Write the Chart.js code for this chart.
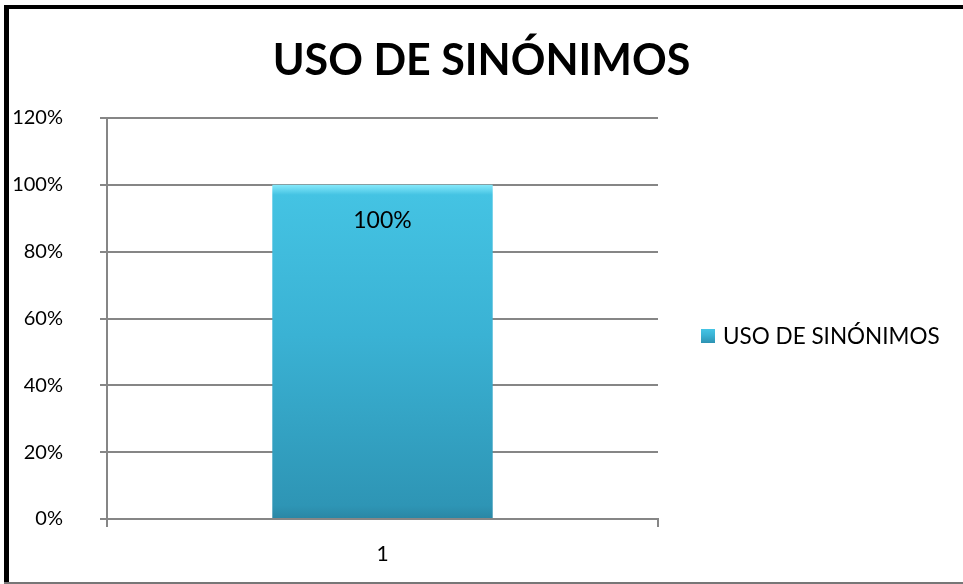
<!DOCTYPE html>
<html>
<head>
<meta charset="utf-8">
<script src="https://cdn.jsdelivr.net/npm/chart.js@4/dist/chart.umd.min.js"></script>
<style>
  html, body { margin: 0; padding: 0; background: #fff; }
  #wrap { position: relative; width: 963px; height: 584px; overflow: hidden; }
  #wrap canvas { position: absolute; left: 0; top: 0; }
  .frameL { position: absolute; left: 4px; top: 5px; width: 5px; height: 579px; background: #000; }
  .frameT { position: absolute; left: 4px; top: 5px; width: 959px; height: 4px; background: #000; }
  .frameB { position: absolute; left: 4px; top: 582px; width: 959px; height: 2px; background: #777; }
</style>
</head>
<body>
<div id="wrap">
  <canvas id="chart" width="963" height="584"></canvas>
  <div class="frameL"></div>
  <div class="frameT"></div>
  <div class="frameB"></div>
</div>
<script>
const chartTitle = 'USO DE SINÓNIMOS';
const categories = ['1'];
const seriesName = 'USO DE SINÓNIMOS';
const seriesValues = [1.0];
const yTicks = [0, 0.2, 0.4, 0.6, 0.8, 1.0, 1.2];

const FONT = 'Lato, "Open Sans", sans-serif';
const GRID = '#868686';

function barGradient(ctx, top, bottom) {
    const g = ctx.createLinearGradient(0, top, 0, bottom);
    g.addColorStop(0, '#86e9fb');
    g.addColorStop(0.03, '#44c3e3');
    g.addColorStop(0.45, '#3ab2d4');
    g.addColorStop(0.96, '#2e95b5');
    g.addColorStop(1, '#2a86a4');
    return g;
}

// title centred on the whole picture (not just the plot)
const pageTitle = {
    id: 'pageTitle',
    afterDraw(chart) {
        const ctx = chart.ctx;
        ctx.save();
        ctx.font = 'bold 43px ' + FONT;
        ctx.fillStyle = '#000';
        ctx.textAlign = 'center';
        ctx.textBaseline = 'middle';
        ctx.fillText(chartTitle, chart.width / 2, 61);
        ctx.restore();
    }
};

// data label inside top of the bar
const valueLabels = {
    id: 'valueLabels',
    afterDatasetsDraw(chart) {
        const ctx = chart.ctx;
        const meta = chart.getDatasetMeta(0);
        ctx.save();
        ctx.font = '23px ' + FONT;
        ctx.fillStyle = '#000';
        ctx.textAlign = 'center';
        ctx.textBaseline = 'middle';
        meta.data.forEach((bar, i) => {
            const v = chart.data.datasets[0].data[i];
            ctx.fillText(Math.round(v * 100) + '%', bar.x, bar.y + 36);
        });
        ctx.restore();
    }
};

// legend on the right, drawn by hand so it sits where the original has it
const sideLegend = {
    id: 'sideLegend',
    afterDraw(chart) {
        const ctx = chart.ctx;
        const x = 701, y = 336;
        ctx.save();
        ctx.fillStyle = barGradient(ctx, y - 7, y + 7);
        ctx.fillRect(x, y - 7, 14, 14);
        ctx.font = '22.5px ' + FONT;
        ctx.fillStyle = '#000';
        ctx.textAlign = 'left';
        ctx.textBaseline = 'middle';
        ctx.fillText(chart.data.datasets[0].label, x + 22, y + 1);
        ctx.restore();
    }
};

new Chart(document.getElementById('chart'), {
    type: 'bar',
    data: {
        labels: categories,
        datasets: [{
            label: seriesName,
            data: seriesValues,
            backgroundColor: (c) => {
                const area = c.chart.chartArea;
                if (!area) return '#3ab2d4';
                const yScale = c.chart.scales.y;
                return barGradient(c.chart.ctx, yScale.getPixelForValue(1), area.bottom);
            },
            borderWidth: 0,
            barPercentage: 0.4,
            categoryPercentage: 1.0
        }]
    },
    options: {
        responsive: false,
        animation: false,
        layout: { padding: { left: 0, right: 305, top: 118, bottom: 0 } },
        plugins: {
            legend: { display: false },
            tooltip: { enabled: false },
            title: { display: false }
        },
        scales: {
            x: {
                afterFit: (s) => { s.height = 65; },
                grid: { display: true, drawOnChartArea: false, tickLength: 8, color: GRID, lineWidth: 2, offset: true },
                border: { color: GRID, width: 2 },
                ticks: { color: '#000', font: { family: FONT, size: 21 }, padding: 15 }
            },
            y: {
                min: 0,
                max: 1.2,
                afterFit: (s) => { s.width = 107; },
                afterBuildTicks: (s) => { s.ticks = yTicks.map(v => ({ value: v })); },
                grid: { color: GRID, lineWidth: 2, tickLength: 7 },
                border: { color: GRID, width: 2 },
                ticks: {
                    color: '#000',
                    font: { family: FONT, size: 20 },
                    padding: 37,
                    callback: (v) => Math.round(v * 100) + '%'
                }
            }
        }
    },
    plugins: [valueLabels, sideLegend, pageTitle]
});
</script>
</body>
</html>
